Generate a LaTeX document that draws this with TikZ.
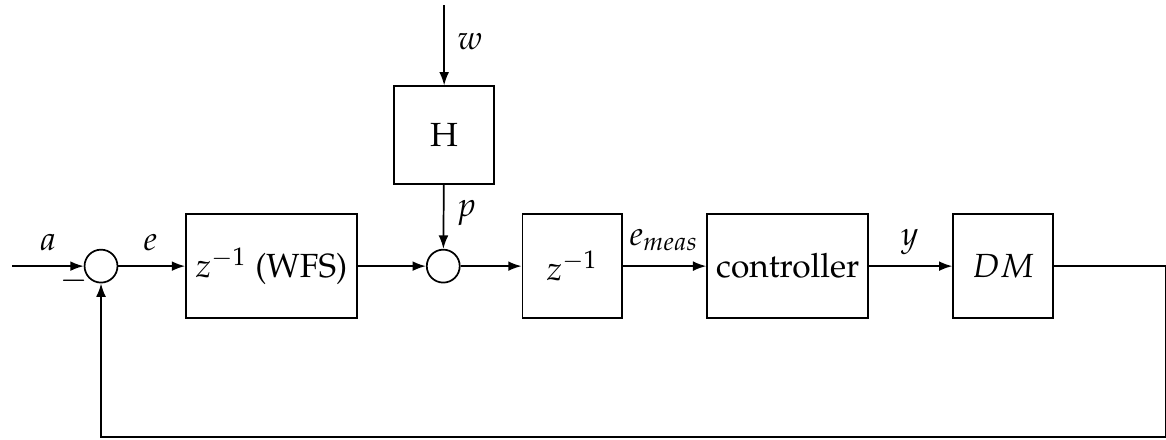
\documentclass[tikz,border=0pt]{standalone}
\usepackage[T1]{fontenc}
\usepackage{mathpazo}
\usetikzlibrary{arrows.meta,positioning}
\tikzset{
  blk/.style={draw,line width=0.55pt,minimum height=1.17cm,inner sep=2pt,font=\fontsize{10.7}{13}\selectfont},
  sumpt/.style={draw,line width=0.55pt,circle,minimum size=0.37cm,inner sep=0pt},
  sig/.style={-{Latex[length=1.5mm,width=1.1mm]},line width=0.55pt},
  lbl/.style={font=\fontsize{10.7}{13}\selectfont}
}

\begin{document}
\begin{tikzpicture}

  \useasboundingbox (0,-1.944) rectangle (13.1,2.99);

  % ---- Forward path --------------------------------
  \coordinate (in) at (0.135,0);
  \node[sumpt] (sum1) at (1.135,0) {};
  \node[blk,minimum width=1.92cm] (wfs) at (3.05,0) {$z^{-1}$ (WFS)};
  \node[sumpt] (sum2) at (4.98,0) {};
  \node[blk,minimum width=1.12cm,minimum height=1.10cm] (H) at (4.99,1.47) {H};
  \node[blk,minimum width=1.12cm] (delay) at (6.43,0) {$z^{-1}$};
  \node[blk,minimum width=1.81cm] (ctrl) at (8.85,0) {controller};
  \node[blk,minimum width=1.12cm] (dm) at (11.27,0) {$DM$};
  \coordinate (wtop) at (4.99,2.93);
  \coordinate (out) at (13.1,0);
  \coordinate (corner) at (13.1,-1.92);

  % Signals
  \draw[sig] (in) -- (sum1);
  \draw[sig] (sum1) -- (wfs);
  \draw[sig] (wfs) -- (sum2);
  \draw[sig] (wtop) -- (H);
  \draw[sig] (H) -- (sum2);
  \draw[sig] (sum2) -- (delay);
  \draw[sig] (delay) -- (ctrl);
  \draw[sig] (ctrl) -- (dm);

  % Feedback loop
  \draw[sig] (dm) -- (out) -- (corner) -| (sum1);

  % Labels
  \node[lbl] (la) at (0.54,0.27) {$a$};
  \node[lbl] (lminus) at (0.83,-0.16) {$-$};
  \node[lbl] (le) at (1.69,0.27) {$e$};
  \node[lbl] (lw) at (5.28,2.52) {$w$};
  \node[lbl] (lp) at (5.24,0.60) {$p$};
  \node[lbl] (lmeas) at (7.46,0.29) {$e_{meas}$};
  \node[lbl] (ly) at (10.22,0.27) {$y$};

\end{tikzpicture}
\end{document}
